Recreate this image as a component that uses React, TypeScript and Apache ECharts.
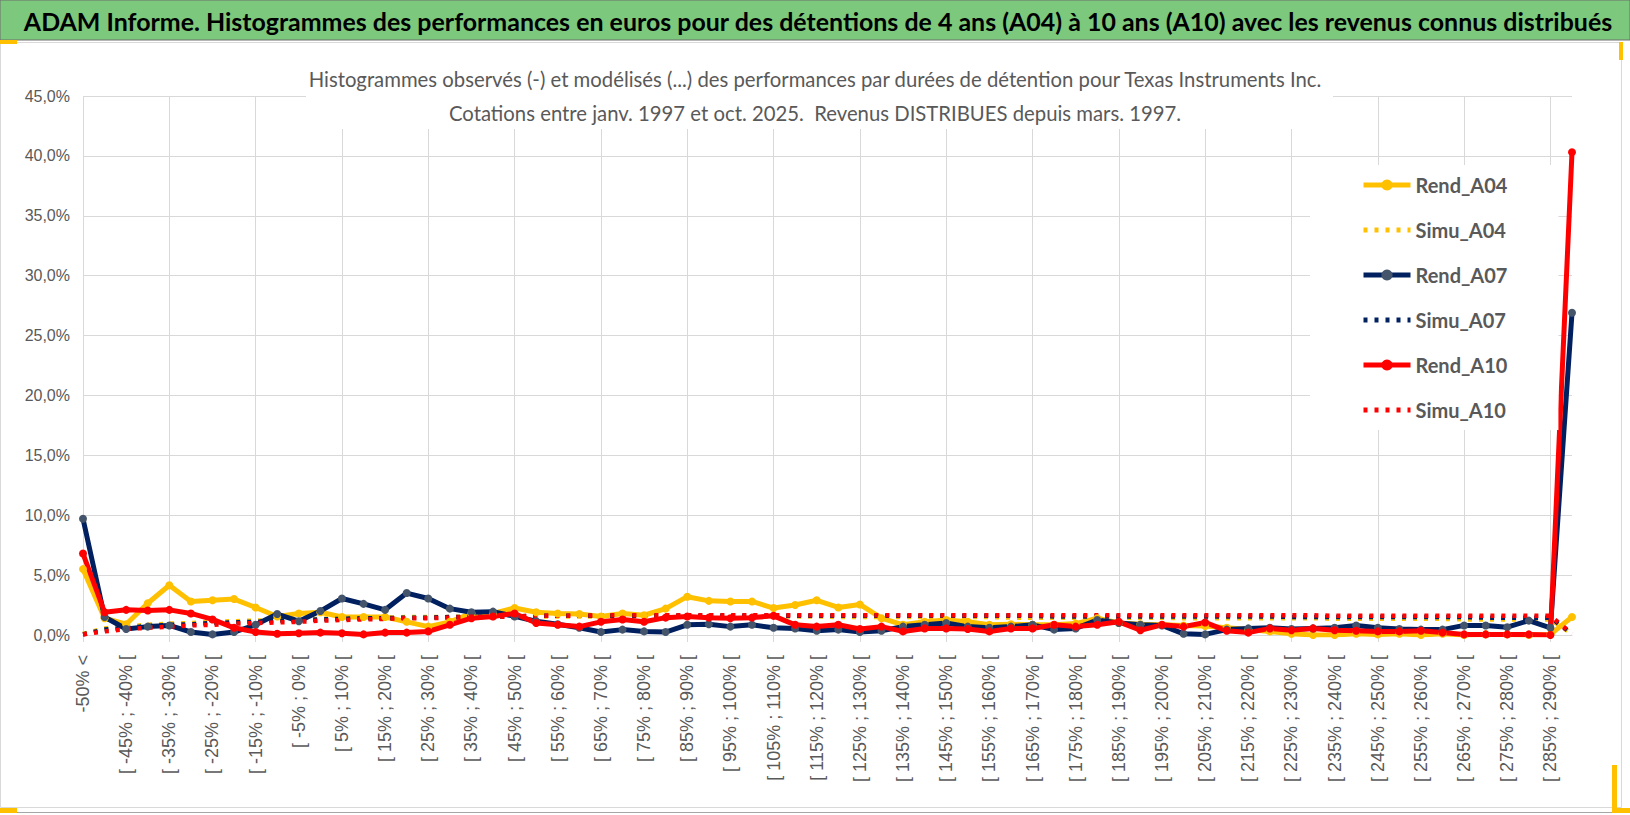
import { useEffect, useRef } from "react";
import * as echarts from "echarts";

// Bins of the histogram (5% steps), first and last are open-ended.
const categories = [
  "-50% <",
  "[ -50% ; -45% [", "[ -45% ; -40% [", "[ -40% ; -35% [", "[ -35% ; -30% [",
  "[ -30% ; -25% [", "[ -25% ; -20% [", "[ -20% ; -15% [", "[ -15% ; -10% [",
  "[ -10% ; -5% [", "[ -5% ; 0% [", "[ 0% ; 5% [", "[ 5% ; 10% [",
  "[ 10% ; 15% [", "[ 15% ; 20% [", "[ 20% ; 25% [", "[ 25% ; 30% [",
  "[ 30% ; 35% [", "[ 35% ; 40% [", "[ 40% ; 45% [", "[ 45% ; 50% [",
  "[ 50% ; 55% [", "[ 55% ; 60% [", "[ 60% ; 65% [", "[ 65% ; 70% [",
  "[ 70% ; 75% [", "[ 75% ; 80% [", "[ 80% ; 85% [", "[ 85% ; 90% [",
  "[ 90% ; 95% [", "[ 95% ; 100% [", "[ 100% ; 105% [", "[ 105% ; 110% [",
  "[ 110% ; 115% [", "[ 115% ; 120% [", "[ 120% ; 125% [", "[ 125% ; 130% [",
  "[ 130% ; 135% [", "[ 135% ; 140% [", "[ 140% ; 145% [", "[ 145% ; 150% [",
  "[ 150% ; 155% [", "[ 155% ; 160% [", "[ 160% ; 165% [", "[ 165% ; 170% [",
  "[ 170% ; 175% [", "[ 175% ; 180% [", "[ 180% ; 185% [", "[ 185% ; 190% [",
  "[ 190% ; 195% [", "[ 195% ; 200% [", "[ 200% ; 205% [", "[ 205% ; 210% [",
  "[ 210% ; 215% [", "[ 215% ; 220% [", "[ 220% ; 225% [", "[ 225% ; 230% [",
  "[ 230% ; 235% [", "[ 235% ; 240% [", "[ 240% ; 245% [", "[ 245% ; 250% [",
  "[ 250% ; 255% [", "[ 255% ; 260% [", "[ 260% ; 265% [", "[ 265% ; 270% [",
  "[ 270% ; 275% [", "[ 275% ; 280% [", "[ 280% ; 285% [", "[ 285% ; 290% [",
  "290% <",
];

// values in %
const rendA04 = [
  5.5, 1.4, 0.9, 2.65, 4.15, 2.8, 2.9, 3.0, 2.3, 1.55,
  1.8, 1.9, 1.5, 1.5, 1.5, 1.1, 0.7, 1.1, 1.8, 1.8,
  2.25, 1.9, 1.8, 1.75, 1.55, 1.8, 1.65, 2.2, 3.2, 2.85,
  2.8, 2.8, 2.25, 2.5, 2.9, 2.3, 2.55, 1.4, 0.85, 1.1,
  1.25, 1.1, 0.85, 0.9, 0.85, 0.85, 0.95, 1.4, 1.0, 0.9,
  0.85, 0.8, 0.75, 0.6, 0.45, 0.3, 0.1, 0.0, 0.0, 0.1,
  0.05, 0.1, 0.0, 0.1, 0.0, 0.05, 0.05, 0.0, 0.05, 1.5,
];

const simuA04 = [
  0.1, 0.55, 0.7, 0.85, 0.95, 1.0, 1.1, 1.15, 1.2, 1.25,
  1.3, 1.35, 1.4, 1.45, 1.45, 1.5, 1.5, 1.5, 1.55, 1.55,
  1.55, 1.55, 1.55, 1.55, 1.55, 1.55, 1.55, 1.55, 1.55, 1.55,
  1.55, 1.55, 1.55, 1.55, 1.55, 1.5, 1.5, 1.5, 1.5, 1.5,
  1.5, 1.5, 1.5, 1.45, 1.45, 1.45, 1.45, 1.45, 1.45, 1.45,
  1.45, 1.4, 1.4, 1.4, 1.4, 1.4, 1.4, 1.4, 1.35, 1.35,
  1.35, 1.35, 1.35, 1.35, 1.3, 1.3, 1.3, 1.3, 1.3, 0.1,
];

const rendA07 = [
  9.7, 1.5, 0.5, 0.7, 0.8, 0.25, 0.05, 0.25, 0.85, 1.75,
  1.15, 2.0, 3.05, 2.6, 2.1, 3.5, 3.05, 2.2, 1.9, 1.95,
  1.55, 1.15, 0.9, 0.6, 0.25, 0.45, 0.3, 0.25, 0.85, 0.9,
  0.7, 0.85, 0.6, 0.55, 0.35, 0.45, 0.25, 0.35, 0.7, 0.85,
  1.0, 0.7, 0.6, 0.7, 0.85, 0.45, 0.55, 1.25, 1.0, 0.85,
  0.8, 0.1, 0.05, 0.45, 0.55, 0.6, 0.5, 0.55, 0.6, 0.8,
  0.6, 0.5, 0.45, 0.45, 0.8, 0.8, 0.65, 1.2, 0.6, 26.9,
];

const simuA07 = [
  0.05, 0.45, 0.6, 0.75, 0.85, 0.9, 1.0, 1.05, 1.1, 1.2,
  1.25, 1.3, 1.35, 1.4, 1.4, 1.45, 1.45, 1.5, 1.5, 1.55,
  1.55, 1.6, 1.6, 1.6, 1.6, 1.6, 1.6, 1.6, 1.6, 1.6,
  1.6, 1.6, 1.6, 1.6, 1.6, 1.6, 1.6, 1.6, 1.6, 1.6,
  1.6, 1.6, 1.6, 1.6, 1.6, 1.55, 1.55, 1.55, 1.55, 1.55,
  1.55, 1.55, 1.55, 1.55, 1.55, 1.55, 1.5, 1.5, 1.5, 1.5,
  1.5, 1.5, 1.5, 1.5, 1.5, 1.45, 1.45, 1.45, 1.45, 0.1,
];

const rendA10 = [
  6.8, 1.9, 2.1, 2.05, 2.1, 1.8, 1.3, 0.6, 0.25, 0.1,
  0.15, 0.2, 0.15, 0.05, 0.2, 0.2, 0.3, 0.85, 1.4, 1.55,
  1.8, 1.0, 0.85, 0.7, 1.1, 1.3, 1.1, 1.45, 1.55, 1.45,
  1.4, 1.45, 1.6, 0.85, 0.7, 0.85, 0.5, 0.7, 0.3, 0.55,
  0.55, 0.5, 0.3, 0.55, 0.55, 0.85, 0.7, 0.85, 1.1, 0.4,
  0.85, 0.7, 1.05, 0.35, 0.2, 0.55, 0.4, 0.55, 0.4, 0.35,
  0.3, 0.3, 0.35, 0.2, 0.05, 0.05, 0.05, 0.05, 0.0, 40.3,
];

const simuA10 = [
  0.05, 0.3, 0.5, 0.6, 0.7, 0.8, 0.85, 0.95, 1.0, 1.05,
  1.1, 1.2, 1.25, 1.3, 1.35, 1.4, 1.4, 1.45, 1.5, 1.5,
  1.55, 1.6, 1.6, 1.6, 1.65, 1.65, 1.65, 1.65, 1.65, 1.65,
  1.65, 1.65, 1.65, 1.65, 1.65, 1.65, 1.65, 1.65, 1.65, 1.65,
  1.65, 1.65, 1.65, 1.65, 1.65, 1.65, 1.65, 1.65, 1.65, 1.65,
  1.65, 1.65, 1.65, 1.65, 1.65, 1.65, 1.65, 1.65, 1.6, 1.6,
  1.6, 1.6, 1.6, 1.6, 1.6, 1.6, 1.6, 1.6, 1.6, 0.1,
];

const bannerText =
  "ADAM Informe. Histogrammes des performances en euros pour des détentions de 4 ans (A04) à 10 ans (A10) avec les revenus connus distribués";
const subtitleLines = [
  "Histogrammes observés (-) et modélisés (...) des performances par durées de détention pour Texas Instruments Inc.",
  "Cotations entre janv. 1997 et oct. 2025.  Revenus DISTRIBUES depuis mars. 1997.",
];

const LATO = 'Lato, "Open Sans", sans-serif';
const SANS = '"Liberation Sans", Arial, sans-serif';
const GRID = "#D9D9D9";
const TEXT = "#595959";
const YELLOW = "#FFC000";
const NAVY = "#002060";
const RED = "#FF0000";

// the reference uses a condensed face: measure Lato and squeeze it to the same width
function textWidth(text: string, font: string): number {
  const ctx = document.createElement("canvas").getContext("2d");
  if (!ctx) {
    return text.length * 10;
  }
  ctx.font = font;
  return ctx.measureText(text).width;
}

function rendSeries(name: string, data: number[], line: string, marker: string) {
  return {
    name,
    type: "line",
    data,
    symbol: "circle",
    symbolSize: 8,
    showSymbol: true,
    lineStyle: { color: line, width: 5 },
    itemStyle: { color: marker, borderWidth: 0 },
  };
}

function simuSeries(name: string, data: number[], color: string) {
  return {
    name,
    type: "line",
    data,
    symbol: "none",
    lineStyle: { color, width: 4.5, type: [4, 7] },
    itemStyle: { color },
  };
}

export default function App() {
  const ref = useRef<HTMLDivElement | null>(null);

  useEffect(() => {
    const el = ref.current;
    if (!el) {
      return;
    }
    const chart = echarts.init(el, null, { renderer: "svg" });

    const bannerFont = `bold 25px ${LATO}`;
    const bannerScale = 1590 / textWidth(bannerText, bannerFont);
    const subFont = `22px ${LATO}`;
    const subScale = 1015 / textWidth(subtitleLines[0], subFont);

    const hidden = { opacity: 0 };

    chart.setOption({
      animation: false,
      backgroundColor: "#fff",
      legend: {
        orient: "vertical",
        left: 1310,
        top: 165,
        backgroundColor: "#fff",
        padding: [8, 51, 8, 51],
        itemWidth: 47,
        itemHeight: 14,
        itemGap: 21,
        lineStyle: { width: 5 },
        textStyle: {
          fontFamily: LATO,
          fontSize: 20,
          fontWeight: "bold",
          color: TEXT,
          lineHeight: 24,
        },
        data: [
          { name: "Rend_A04" },
          { name: "Simu_A04", itemStyle: hidden },
          { name: "Rend_A07" },
          { name: "Simu_A07", itemStyle: hidden },
          { name: "Rend_A10" },
          { name: "Simu_A10", itemStyle: hidden },
        ],
      },
      grid: { left: 83, right: 58, top: 96, bottom: 180, containLabel: false },
      xAxis: {
        type: "category",
        boundaryGap: false,
        data: categories,
        axisLine: { lineStyle: { color: GRID, width: 1 } },
        axisTick: { show: true, interval: 3, length: 7, lineStyle: { color: GRID } },
        splitLine: { show: true, interval: 3, lineStyle: { color: GRID, width: 1 } },
        axisLabel: {
          interval: 1,
          rotate: 90,
          margin: 20,
          color: TEXT,
          fontFamily: SANS,
          fontSize: 18,
        },
      },
      yAxis: {
        type: "value",
        min: 0,
        max: 45,
        interval: 5,
        axisLine: { show: false },
        axisTick: { show: false },
        splitLine: { lineStyle: { color: GRID, width: 1 } },
        axisLabel: {
          margin: 13,
          color: TEXT,
          fontFamily: SANS,
          fontSize: 16,
          formatter: (v: number) => v.toFixed(1).replace(".", ",") + "%",
        },
      },
      graphic: [
        {
          type: "rect",
          shape: { x: 0.5, y: 42.5, width: 1621, height: 765 },
          style: { fill: "none", stroke: GRID, lineWidth: 1 },
          silent: true,
        },
        {
          type: "line",
          shape: { x1: 0, y1: 812.5, x2: 1630, y2: 812.5 },
          style: { stroke: "#A6A6A6", lineWidth: 1 },
          silent: true,
        },
        {
          type: "rect",
          shape: { x: 0, y: 0, width: 1630, height: 40 },
          style: { fill: "#7CC87C", stroke: "#6E6E6E", lineWidth: 1 },
          silent: true,
        },
        {
          type: "text",
          x: 818,
          y: 21,
          scaleX: bannerScale,
          style: {
            text: bannerText,
            align: "center",
            verticalAlign: "middle",
            font: bannerFont,
            fill: "#000",
          },
          silent: true,
        },
        // subtitle box, opaque like the spreadsheet's title frame
        {
          type: "rect",
          z: 10,
          shape: { x: 306, y: 60, width: 1027, height: 69 },
          style: { fill: "#fff" },
          silent: true,
        },
        {
          type: "text",
          z: 11,
          x: 815,
          y: 79,
          scaleX: subScale,
          style: {
            text: subtitleLines[0],
            align: "center",
            verticalAlign: "middle",
            font: subFont,
            fill: TEXT,
          },
          silent: true,
        },
        {
          type: "text",
          z: 11,
          x: 815,
          y: 113,
          scaleX: subScale,
          style: {
            text: subtitleLines[1],
            align: "center",
            verticalAlign: "middle",
            font: subFont,
            fill: TEXT,
          },
          silent: true,
        },
        { type: "rect", shape: { x: 0, y: 40, width: 17, height: 4 }, style: { fill: YELLOW }, silent: true },
        { type: "rect", shape: { x: 1619, y: 42, width: 4, height: 18 }, style: { fill: YELLOW }, silent: true },
        { type: "rect", shape: { x: 0, y: 808, width: 17, height: 5 }, style: { fill: YELLOW }, silent: true },
        { type: "rect", shape: { x: 1612, y: 765, width: 5, height: 48 }, style: { fill: YELLOW }, silent: true },
        { type: "rect", shape: { x: 1612, y: 808, width: 18, height: 5 }, style: { fill: YELLOW }, silent: true },
      ],
      series: [
        rendSeries("Rend_A04", rendA04, YELLOW, YELLOW),
        simuSeries("Simu_A04", simuA04, YELLOW),
        rendSeries("Rend_A07", rendA07, NAVY, "#44546A"),
        simuSeries("Simu_A07", simuA07, NAVY),
        rendSeries("Rend_A10", rendA10, RED, RED),
        simuSeries("Simu_A10", simuA10, RED),
      ],
    });

    return () => {
      chart.dispose();
    };
  }, []);

  return (
    <div
      ref={ref}
      style={{ position: "fixed", left: 0, top: 0, width: 1630, height: 815 }}
    />
  );
}
